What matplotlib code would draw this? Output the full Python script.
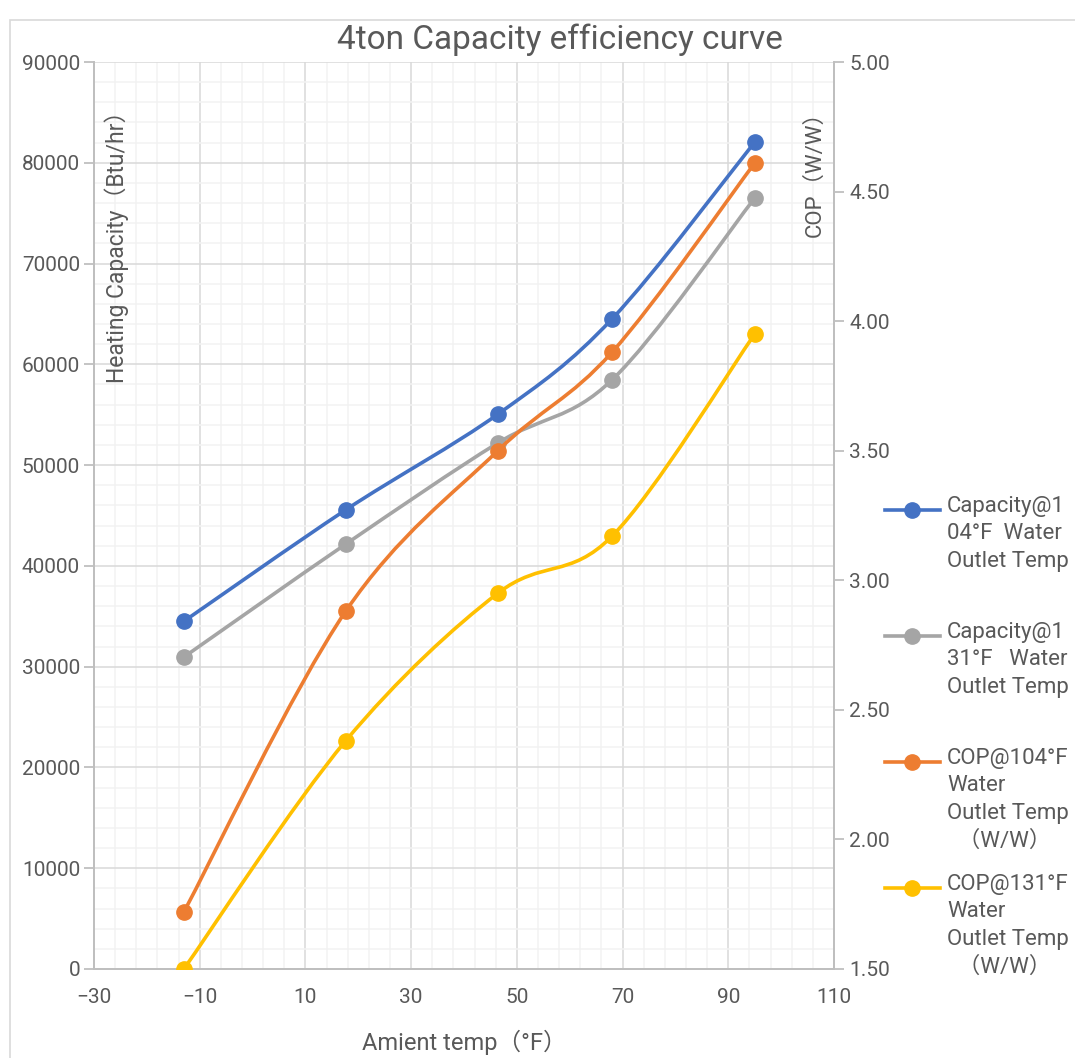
import matplotlib
matplotlib.use('Agg')
import matplotlib.pyplot as plt
from matplotlib.path import Path
from matplotlib.patches import PathPatch, Rectangle
from matplotlib.lines import Line2D
from matplotlib.ticker import MultipleLocator, FixedLocator, FormatStrFormatter
import numpy as np

plt.rcParams['font.family'] = ['Roboto', 'Noto Sans CJK SC', 'DejaVu Sans']

# ambient temperature (°F)
temps = [-13, 17.6, 46.4, 68, 95]

# heating capacity (Btu/hr), left axis
cap_104 = [34500, 45550, 55050, 64500, 82050]
cap_131 = [30950, 42150, 52200, 58450, 76500]

# COP (W/W), right axis
cop_104 = [1.72, 2.88, 3.50, 3.88, 4.61]
cop_131 = [1.50, 2.38, 2.95, 3.17, 3.95]

labels = ['Capacity@1\n04°F  Water\nOutlet Temp',
          'Capacity@1\n31°F   Water\nOutlet Temp',
          'COP@104°F\nWater\nOutlet Temp\n  （W/W）',
          'COP@131°F\nWater\nOutlet Temp\n  （W/W）']
colors = ['#4472C4', '#A5A5A5', '#ED7D31', '#FFC000']

txt = '#595959'


def smooth_path(x, y):
    # excel style smoothed line: bezier segments through the points
    p = np.column_stack([x, y]).astype(float)
    n = len(p)
    verts = [p[0]]
    codes = [Path.MOVETO]
    for i in range(n - 1):
        p_prev = p[i - 1] if i > 0 else p[i]
        p_next = p[i + 2] if i + 2 < n else p[i + 1]
        c1 = p[i] + (p[i + 1] - p_prev) / 6.0
        c2 = p[i + 1] - (p_next - p[i]) / 6.0
        verts += [c1, c2, p[i + 1]]
        codes += [Path.CURVE4] * 3
    return Path(verts, codes)


def draw_series(ax, x, y, color):
    ax.add_patch(PathPatch(smooth_path(x, y), fill=False, edgecolor=color,
                           lw=2.6, capstyle='round', zorder=3))
    ax.plot(x, y, 'o', color=color, markersize=11, zorder=4)


fig = plt.figure(figsize=(10.75, 10.58), dpi=100)
fig.add_artist(Rectangle((10 / 1075, -0.01), 1.0, 1 - 20 / 1058 + 0.01,
                         transform=fig.transFigure, fill=False,
                         edgecolor='#d9d9d9', lw=1.2))

ax = fig.add_axes([94 / 1075, 1 - 969 / 1058, 740 / 1075, 907 / 1058])
ax2 = ax.twinx()

ax.set_xlim(-30, 110)
ax.set_ylim(0, 90000)
ax2.set_ylim(1.5, 5.0)

ax.xaxis.set_major_locator(FixedLocator(np.arange(-30, 111, 20)))
ax.xaxis.set_minor_locator(FixedLocator(np.arange(-30, 111, 4)))
ax.yaxis.set_major_locator(MultipleLocator(10000))
ax.yaxis.set_minor_locator(MultipleLocator(2000))
ax2.yaxis.set_major_locator(FixedLocator(np.arange(1.5, 5.01, 0.5)))
ax2.yaxis.set_major_formatter(FormatStrFormatter('%.2f'))

ax.grid(which='major', color='#d9d9d9', lw=1.1)
ax.grid(which='minor', color='#f2f2f2', lw=1.1)
ax.set_axisbelow(True)

for a in (ax, ax2):
    a.spines['top'].set_visible(False)
    for s in ('left', 'right', 'bottom'):
        a.spines[s].set_color('#bfbfbf')
        a.spines[s].set_linewidth(1.3)

ax.tick_params(axis='x', which='both', length=0, pad=14, labelsize=15, labelcolor=txt)
ax.tick_params(axis='y', which='major', length=7, color='#bfbfbf', width=1.3,
               pad=3, labelsize=15, labelcolor=txt)
ax.tick_params(axis='y', which='minor', length=0)
ax2.tick_params(axis='y', which='major', length=7, color='#bfbfbf', width=1.3,
                pad=4, labelsize=15, labelcolor=txt)

draw_series(ax, temps, cap_104, colors[0])
draw_series(ax, temps, cap_131, colors[1])
draw_series(ax2, temps, cop_104, colors[2])
draw_series(ax2, temps, cop_131, colors[3])

ax.text(0.031, 0.958, 'Heating Capacity（Btu/hr）', transform=ax.transAxes,
        rotation=90, ha='center', va='top', fontsize=16.5, color=txt)
ax.text(0.974, 0.958, 'COP（W/W）', transform=ax.transAxes,
        rotation=90, ha='center', va='top', fontsize=16, color=txt)
ax.set_xlabel('Amient temp（°F）', fontsize=17, color=txt, labelpad=16)

fig.text(0.521, 1 - 40 / 1058, '4ton Capacity efficiency curve', ha='center',
         va='center', fontsize=24, color=txt)

# legend, handle next to first line of each label
leg_y = [510, 636, 762, 888]
for lab, col, yp in zip(labels, colors, leg_y):
    yf = 1 - yp / 1058
    fig.add_artist(Line2D([885 / 1075, 912 / 1075, 940 / 1075], [yf, yf, yf],
                          transform=fig.transFigure, color=col, lw=2.6,
                          marker='o', markersize=11, markevery=[1]))
    fig.text(947 / 1075, yf + 14 / 1058, lab, ha='left', va='top',
             fontsize=16, color=txt, linespacing=1.4)

fig.savefig('out.png', dpi=100)
